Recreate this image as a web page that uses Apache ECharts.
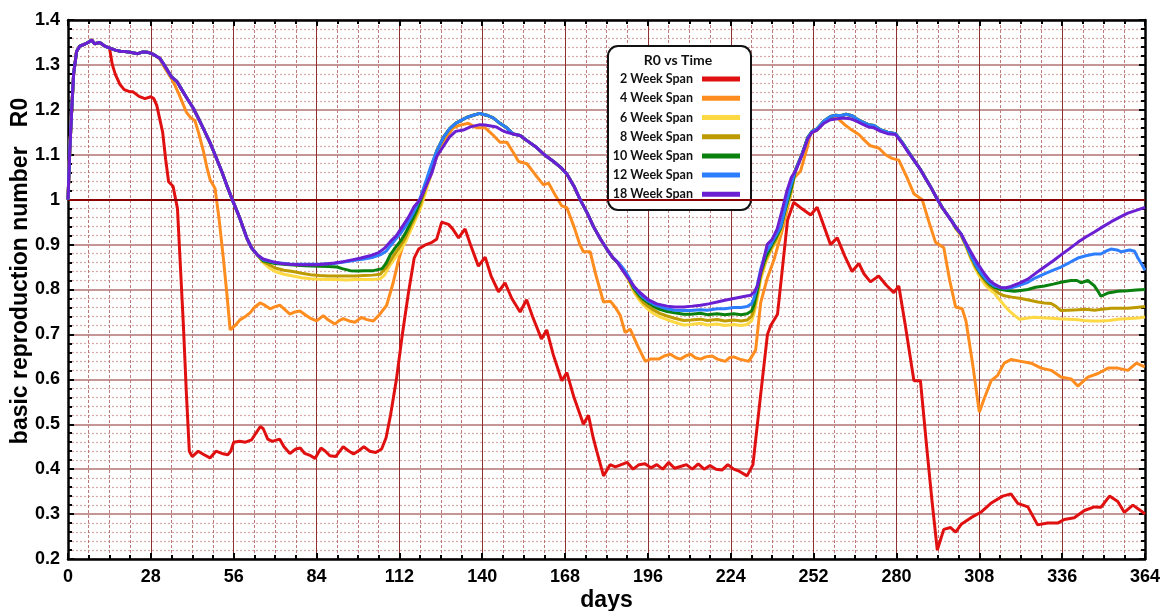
<!DOCTYPE html>
<html><head><meta charset="utf-8">
<script src="https://cdn.jsdelivr.net/npm/echarts@6/dist/echarts.min.js"></script>
<style>html,body{margin:0;padding:0;background:#fff}#chart{width:1166px;height:611px}</style>
</head><body><div id="chart"></div>
<script>
// ---- data: [day, R0] pairs ----
const seriesNames = ['2 Week Span','4 Week Span','6 Week Span','8 Week Span','10 Week Span','12 Week Span','18 Week Span'];
const seriesColors = ['#e01010','#ff8c1e','#ffd944','#bd9a00','#0a800f','#2d7dff','#6a1fd2'];

const commonStart = [[0,1.0],[0.6,1.11],[1.25,1.2],[1.9,1.28],[2.9,1.33],[4,1.342],[5.6,1.346],[7.3,1.352],[8,1.356],[9,1.347],[10.7,1.35],[12.4,1.342],[14,1.338]];
const plateau = [[16,1.333],[18,1.33],[19.2,1.33],[21,1.328],[23.6,1.325],[25.3,1.329],[27,1.328],[28.3,1.325],[29.7,1.32]];
const clusterFall = [[31,1.315],[33,1.295],[35,1.273],[36.7,1.264],[38,1.25],[40,1.228],[42.3,1.204],[44,1.182],[46,1.155],[48,1.127],[50,1.095],[52,1.062],[53.6,1.033],[55.9,0.994],[58,0.96],[60.4,0.915],[62,0.893],[64,0.877]];
const clusterPeak1 = [[124.6,1.108],[127,1.14],[129,1.158],[131,1.17],[133,1.177],[134.7,1.183],[137,1.188],[139.2,1.192],[141.5,1.188],[143.7,1.182],[146,1.17],[148.3,1.16]];
const clusterFall1 = [[150.5,1.146],[152.8,1.143],[155,1.132],[158.4,1.116],[161,1.1],[164.1,1.085],[166.5,1.072],[168.6,1.057],[171,1.03],[173.1,1.0],[175.5,0.97],[177.6,0.94],[180,0.912],[182.1,0.89],[184,0.872]];
const clusterPeak2 = [[246,1.068],[248,1.1],[250,1.138],[251.5,1.152],[253.2,1.158],[255.5,1.175],[257.7,1.185],[259.5,1.188],[261.1,1.187],[263,1.19],[265,1.187],[266.5,1.18],[268.5,1.173],[270.5,1.167],[272.4,1.165],[274.7,1.155],[277,1.15],[279.7,1.147],[282,1.127],[283.5,1.112],[285.9,1.088],[288,1.068],[290,1.046],[291.5,1.029],[293.5,1.005],[295.5,0.982],[297.2,0.966],[299,0.95]];

const redRest = [[15,1.3],[16,1.279],[17.5,1.257],[19,1.245],[21,1.24],[22,1.24],[24,1.23],[26,1.225],[28,1.229],[29,1.225],[30,1.21],[31,1.18],[32,1.15],[33,1.09],[34,1.04],[35.5,1.03],[37,0.98],[38,0.85],[39,0.72],[40,0.57],[41,0.44],[42,0.428],[44,0.44],[46,0.432],[48,0.425],[50,0.44],[52,0.435],[54,0.432],[55,0.44],[56,0.46],[58,0.462],[60,0.46],[62,0.465],[63.5,0.48],[65,0.495],[66,0.49],[67.5,0.467],[69,0.462],[71.5,0.467],[73,0.45],[75,0.435],[77,0.445],[78.5,0.447],[80,0.435],[82,0.43],[83.5,0.424],[85.5,0.447],[87,0.44],[88.5,0.43],[90.5,0.428],[93,0.45],[95,0.44],[96.5,0.434],[98,0.44],[100,0.45],[102,0.44],[104,0.437],[106,0.445],[107.5,0.47],[109,0.52],[111,0.6],[113,0.7],[115,0.79],[117,0.87],[118.5,0.89],[121,0.9],[123,0.905],[124.6,0.912],[126.3,0.95],[128.6,0.945],[130,0.935],[132,0.915],[134.2,0.935],[136,0.9],[138.7,0.852],[141,0.872],[143,0.83],[145.5,0.795],[147.7,0.815],[150,0.78],[152.8,0.75],[155,0.777],[157,0.74],[160,0.69],[161.8,0.71],[164,0.655],[166.9,0.597],[168.6,0.615],[171,0.56],[174.2,0.5],[175.9,0.52],[177.5,0.47],[178.7,0.44],[181,0.385],[183.2,0.41],[185,0.405],[187,0.41],[189,0.415],[191,0.4],[193,0.41],[195,0.412],[197,0.403],[199,0.41],[201,0.4],[203,0.415],[205,0.402],[207,0.406],[209,0.41],[211,0.4],[213,0.412],[215,0.4],[217,0.408],[219,0.4],[221,0.398],[223,0.41],[225,0.4],[227,0.395],[229.5,0.385],[231.5,0.41],[234,0.56],[236.4,0.7],[237.5,0.72],[239.8,0.745],[241.5,0.85],[243.2,0.955],[245.3,0.994],[247.6,0.982],[251,0.966],[253.2,0.983],[255,0.95],[257.7,0.9],[260,0.915],[262.5,0.875],[265,0.84],[267.3,0.858],[269,0.835],[271.2,0.817],[274,0.83],[276.5,0.81],[279.1,0.793],[280.8,0.808],[283,0.72],[285.9,0.597],[288.1,0.597],[290.4,0.437],[292,0.33],[293.8,0.22],[296,0.266],[298.3,0.27],[300,0.26],[302,0.278],[305.2,0.292],[308.5,0.304],[311.9,0.324],[315.9,0.34],[318.7,0.345],[321,0.324],[324.4,0.316],[327.7,0.276],[331.1,0.28],[334.5,0.28],[336.7,0.288],[340.1,0.292],[343.5,0.308],[346.9,0.316],[349.1,0.315],[352,0.34],[354.8,0.328],[357,0.304],[359.9,0.32],[363.3,0.304],[364,0.3]];

const orangeRest = [[31,1.313],[33,1.29],[35.5,1.264],[37.5,1.235],[40,1.195],[41.5,1.182],[42.9,1.176],[44.3,1.145],[45.7,1.11],[47,1.07],[48,1.045],[49.7,1.025],[51,0.96],[52.5,0.87],[53.7,0.79],[54.8,0.71],[56.5,0.72],[58.2,0.733],[60,0.74],[61.5,0.748],[63,0.76],[64.9,0.77],[66.5,0.765],[68.3,0.757],[70,0.762],[71.6,0.765],[73.3,0.755],[75,0.745],[76.7,0.75],[78.4,0.752],[80.5,0.742],[82.2,0.735],[84,0.73],[86.3,0.742],[88,0.732],[90.2,0.723],[91.5,0.73],[93,0.735],[95,0.73],[97,0.727],[99.2,0.738],[101,0.733],[103.2,0.73],[105.4,0.745],[107.7,0.765],[109.9,0.815],[111.5,0.86],[113.3,0.9],[115,0.935],[116.7,0.963],[118.5,0.985],[120.5,1.02],[122.4,1.05],[124,1.085],[125.7,1.112],[128,1.14],[130.2,1.16],[132.5,1.166],[135.3,1.17],[138.1,1.16],[141,1.16],[143.5,1.145],[146,1.128],[148.3,1.128],[150.5,1.105],[152.3,1.085],[155.1,1.08],[158,1.055],[160.7,1.033],[162.4,1.037],[164.7,1.01],[166.9,0.986],[168.6,0.982],[171,0.94],[173,0.9],[174.2,0.884],[176.5,0.884],[178.5,0.83],[181,0.772],[183.3,0.774],[185,0.76],[186.6,0.743],[188.3,0.704],[190,0.712],[192.5,0.675],[195.1,0.64],[196.8,0.645],[199.6,0.645],[201.5,0.652],[203.6,0.656],[205.5,0.648],[207,0.645],[208.7,0.652],[210.4,0.656],[212,0.648],[213.8,0.645],[215.5,0.65],[217.7,0.652],[219.5,0.645],[222.2,0.64],[223.5,0.648],[225,0.65],[227,0.645],[230.1,0.64],[232.4,0.665],[234.1,0.77],[236.3,0.824],[238.6,0.866],[241.4,0.932],[244.2,1.01],[245.3,1.048],[247.6,1.064],[250,1.12],[251,1.148],[253.2,1.155],[255.5,1.172],[257.7,1.183],[260,1.182],[262.3,1.168],[264.5,1.157],[267.3,1.145],[269.2,1.132],[271.2,1.12],[274,1.115],[276.3,1.1],[278.5,1.092],[280.8,1.088],[283.5,1.05],[285.9,1.013],[288.7,1.0],[291,0.95],[293.2,0.905],[296,0.893],[298,0.82],[300,0.761],[302.2,0.757],[303.5,0.73],[305.7,0.636],[308,0.527],[309.7,0.558],[312,0.597],[314.2,0.609],[316.4,0.636],[318.7,0.644],[322.1,0.64],[325.5,0.636],[328.9,0.625],[332.3,0.62],[335.6,0.605],[339,0.601],[341.3,0.585],[344.7,0.605],[348.1,0.613],[351.5,0.625],[354.8,0.625],[358.2,0.62],[361.1,0.636],[363.9,0.628]];

const yellowA = [[66,0.86],[68,0.848],[70,0.84],[73,0.834],[76,0.83],[79,0.826],[82,0.824],[85,0.823],[88,0.822],[91,0.822],[94,0.821],[97,0.822],[100,0.822],[103,0.822],[105.5,0.824],[107,0.832],[108.9,0.855],[110.5,0.87],[112.3,0.886],[114,0.905],[115.7,0.93],[117.4,0.955],[119.1,0.98],[120.8,1.015],[122.4,1.05]];
const oliveA = [[66,0.862],[68,0.855],[70,0.848],[73,0.843],[76,0.84],[79,0.836],[82,0.833],[85,0.831],[88,0.83],[91,0.83],[94,0.83],[97,0.83],[100,0.831],[103,0.832],[105.5,0.834],[107.7,0.85],[110,0.875],[112.3,0.897],[114,0.915],[115.7,0.94],[117.4,0.963],[119.1,0.99],[120.8,1.025],[122.4,1.058]];
const greenA = [[66,0.864],[70,0.858],[75,0.855],[80,0.853],[85,0.852],[88,0.851],[90.9,0.85],[93,0.846],[95.4,0.842],[98,0.841],[100,0.842],[103.2,0.842],[106.1,0.846],[107.5,0.858],[108.9,0.877],[110.5,0.892],[112.3,0.907],[114,0.925],[115.7,0.947],[117.4,0.97],[119.1,0.998],[120.8,1.03],[122.4,1.065]];
const blueA = [[66,0.866],[70,0.86],[75,0.857],[80,0.856],[85,0.856],[90,0.858],[92,0.86],[95,0.863],[98,0.866],[100,0.868],[103.2,0.872],[105.5,0.877],[107.5,0.885],[108.9,0.897],[110.5,0.91],[112.3,0.924],[114,0.94],[115.7,0.958],[117.4,0.98],[119.1,1.005],[120.8,1.038],[122.4,1.07]];
const purpleA = [[66,0.868],[69,0.862],[72,0.858],[75,0.856],[78,0.855],[81,0.855],[84,0.855],[87,0.857],[90,0.859],[93,0.862],[96,0.866],[99,0.87],[102,0.875],[105,0.882],[107,0.892],[109,0.907],[111,0.92],[113,0.94],[115,0.96],[117,0.985],[119,1.0],[121,1.03],[123,1.06],[124.6,1.096],[127,1.12],[129,1.14],[131,1.152],[133.6,1.155],[136,1.162],[139.2,1.167],[141,1.166],[144.8,1.162],[146.5,1.155],[148.3,1.15]];

const yellowB = [[186,0.858],[188,0.838],[189.5,0.82],[191.2,0.795],[193,0.777],[194.5,0.765],[196.2,0.755],[198,0.746],[200,0.739],[202.5,0.733],[205,0.727],[208.1,0.721],[210.5,0.722],[213.8,0.725],[216,0.721],[219.4,0.723],[222,0.72],[225,0.722],[227.5,0.72],[229.5,0.722],[231,0.73],[231.8,0.745],[233,0.78],[234.1,0.822],[235.8,0.86],[237.5,0.886],[239.2,0.905],[240.9,0.932],[242.5,0.975],[244.2,1.01]];
const oliveB = [[186,0.858],[188,0.84],[189.5,0.823],[191.2,0.8],[193,0.783],[194.5,0.771],[196.2,0.762],[198,0.754],[200,0.747],[202.5,0.741],[205,0.736],[208.1,0.731],[210.5,0.732],[213.8,0.734],[216,0.731],[219.4,0.733],[222,0.73],[225,0.732],[227.5,0.73],[229.5,0.732],[231,0.74],[231.8,0.755],[233,0.79],[234.1,0.83],[235.8,0.866],[237.5,0.89],[239.2,0.91],[240.9,0.935],[242.5,0.978],[244.2,1.015]];
const greenB = [[186,0.858],[188,0.842],[189.5,0.826],[191.2,0.803],[193,0.788],[194.5,0.778],[196.2,0.77],[198,0.762],[200,0.756],[202.5,0.751],[205,0.748],[208.1,0.745],[210.5,0.745],[213.8,0.747],[216,0.744],[219.4,0.746],[222,0.744],[225,0.746],[227.5,0.744],[229.5,0.746],[231,0.752],[231.8,0.765],[233,0.8],[234.1,0.838],[235.8,0.872],[237.5,0.895],[239.2,0.915],[240.9,0.938],[242.5,0.98],[244.2,1.02]];
const blueB = [[186,0.86],[188,0.844],[189.5,0.828],[191.2,0.806],[193,0.792],[194.5,0.782],[196.2,0.774],[198,0.767],[200,0.762],[202.5,0.757],[205,0.754],[208.1,0.753],[210.5,0.753],[213.8,0.755],[216,0.754],[219.4,0.757],[222,0.757],[225,0.76],[227.5,0.76],[229.5,0.762],[231,0.768],[231.8,0.78],[233,0.81],[234.1,0.845],[235.8,0.882],[237.5,0.9],[239.2,0.92],[240.9,0.94],[242.5,0.985],[244.2,1.03]];
const purpleB = [[185.5,0.862],[187,0.847],[189,0.828],[191.2,0.808],[193,0.795],[196.2,0.777],[199,0.768],[202.5,0.763],[205,0.761],[208.1,0.761],[211,0.763],[213.8,0.765],[216.5,0.768],[219.4,0.772],[222,0.776],[225,0.78],[228,0.784],[230.7,0.787],[232,0.795],[233,0.808],[234.5,0.85],[236.3,0.9],[238,0.912],[239.7,0.935],[241.5,0.98],[243,1.02],[244.5,1.05],[246,1.065],[248,1.098],[250,1.135],[251.5,1.15],[253.2,1.155],[255.5,1.17],[257.7,1.178],[260,1.18],[262,1.182],[264.5,1.18],[266.5,1.175],[268.5,1.168],[270.5,1.162],[272.4,1.16],[274.7,1.152],[277,1.147],[279.7,1.145],[282,1.125],[283.5,1.11],[285.9,1.088],[288,1.068],[290,1.045],[291.5,1.029],[293.5,1.005],[295.5,0.982],[297.2,0.966]];

const yellowC = [[300,0.935],[301.8,0.92],[303.5,0.895],[305,0.87],[306.5,0.848],[308,0.83],[310,0.81],[312,0.797],[313.1,0.792],[314.5,0.78],[316.4,0.765],[318,0.753],[320,0.742],[321.5,0.734],[324,0.736],[326.6,0.738],[329,0.737],[332.3,0.736],[335,0.735],[337.9,0.734],[340.5,0.733],[343.5,0.731],[346,0.73],[349.1,0.73],[352,0.731],[354.8,0.734],[357.5,0.735],[360.5,0.736],[362.5,0.737],[364,0.739]];
const oliveC = [[300,0.937],[301.8,0.922],[303.5,0.898],[305,0.874],[306.5,0.853],[308,0.836],[310,0.818],[311.5,0.807],[313.1,0.8],[314.5,0.792],[316.4,0.786],[319,0.783],[322.1,0.78],[325,0.776],[327.8,0.772],[330,0.77],[332.3,0.769],[334,0.762],[335.6,0.753],[338,0.754],[341.3,0.755],[344,0.756],[346.9,0.754],[349.5,0.756],[352.6,0.758],[355.5,0.758],[358.2,0.758],[361,0.76],[364,0.762]];
const greenC = [[300,0.938],[301.8,0.924],[303.5,0.9],[305,0.878],[306.5,0.857],[308,0.84],[309.7,0.825],[311.5,0.812],[313.1,0.805],[315.4,0.8],[317.5,0.798],[319.9,0.796],[322,0.798],[324.4,0.8],[327,0.805],[330,0.808],[333,0.812],[335.6,0.816],[337,0.818],[339,0.82],[341,0.82],[342.4,0.815],[344.7,0.82],[346.9,0.808],[348,0.797],[349.1,0.785],[351.4,0.792],[353,0.794],[354.8,0.796],[358.2,0.797],[361,0.799],[364,0.8]];
const blueC = [[300,0.938],[301.8,0.924],[303.5,0.9],[305,0.878],[306.5,0.858],[308,0.842],[309.7,0.827],[311.5,0.815],[313.1,0.808],[315.4,0.804],[317,0.803],[318.7,0.804],[321.5,0.809],[324.4,0.816],[327,0.826],[330,0.835],[333,0.843],[335.6,0.85],[338.5,0.86],[341.3,0.87],[344,0.875],[346.9,0.879],[349.1,0.879],[351,0.886],[352.5,0.89],[354.5,0.888],[356,0.884],[358.8,0.888],[360.5,0.885],[361.6,0.87],[363,0.855],[364,0.843]];
const purpleC = [[299,0.948],[301.8,0.924],[304,0.897],[306.3,0.87],[308,0.852],[309.7,0.835],[311.5,0.82],[313.1,0.812],[315.4,0.804],[317,0.804],[318.7,0.807],[321.5,0.814],[324.4,0.823],[327,0.836],[330,0.85],[333,0.864],[335.6,0.877],[338.5,0.891],[341.3,0.905],[344,0.917],[346.9,0.928],[349.8,0.94],[352.6,0.951],[355.5,0.961],[358.2,0.97],[361,0.976],[364,0.983]];

const xMin = 0, xMax = 364, xStep = 28;
const yMin = 0.2, yMax = 1.4, yStep = 0.1;
const thresholdR0 = 1;

// ---- build series ----
const seriesData = [
  commonStart.concat(redRest),
  commonStart.concat(plateau, orangeRest),
  commonStart.concat(plateau, clusterFall, yellowA, clusterPeak1, clusterFall1, yellowB, clusterPeak2, yellowC),
  commonStart.concat(plateau, clusterFall, oliveA, clusterPeak1, clusterFall1, oliveB, clusterPeak2, oliveC),
  commonStart.concat(plateau, clusterFall, greenA, clusterPeak1, clusterFall1, greenB, clusterPeak2, greenC),
  commonStart.concat(plateau, clusterFall, blueA, clusterPeak1, clusterFall1, blueB, clusterPeak2, blueC),
  commonStart.concat(plateau, clusterFall, purpleA, clusterFall1, purpleB, purpleC)
];

const FONT = '"Liberation Sans", Arial, sans-serif';
const series = seriesData.map((d, i) => {
  const s = {
    name: seriesNames[i], type: 'line', data: d, showSymbol: false, symbol: 'none',
    lineStyle: {color: seriesColors[i], width: 3}, itemStyle: {color: seriesColors[i]},
    z: 3 + i, silent: true
  };
  if (i === 0) {
    s.markLine = {silent: true, symbol: ['none','none'], label: {show: false},
      lineStyle: {color: '#8b0000', width: 2, type: 'solid'}, data: [{yAxis: thresholdR0}]};
  }
  return s;
});

const tickCommon = {
  axisLine: {show: true, onZero: false, lineStyle: {color: '#000', width: 2.5}},
  axisTick: {show: true, inside: true, length: 6, lineStyle: {color: '#000', width: 2}},
  minorTick: {show: true, length: 4, lineStyle: {color: '#000', width: 2}}
};

const option = {
  animation: false,
  backgroundColor: '#fff',
  grid: {left: 68, right: 21, top: 20, bottom: 52, containLabel: false, outerBoundsMode: 'none'},
  xAxis: [
    Object.assign({
      type: 'value', min: xMin, max: xMax, interval: xStep, position: 'bottom',
      name: 'days', nameLocation: 'middle', nameGap: 30, nameMoveOverlap: false,
      nameTextStyle: {fontFamily: FONT, fontWeight: 'bold', fontSize: 23, color: '#000'},
      axisLabel: {fontFamily: FONT, fontWeight: 'bold', fontSize: 18, color: '#000', margin: 9},
      splitLine: {show: true, lineStyle: {color: '#8e3030', width: 1}},
      minorSplitLine: {show: true, lineStyle: {color: '#bd7a7a', width: 1, type: [3, 2]}}
    }, tickCommon, {minorTick: Object.assign({splitNumber: 4}, tickCommon.minorTick)}),
    Object.assign({
      type: 'value', min: xMin, max: xMax, interval: xStep, position: 'top',
      axisLabel: {show: false}, splitLine: {show: false}
    }, tickCommon, {minorTick: Object.assign({splitNumber: 4}, tickCommon.minorTick)})
  ],
  yAxis: [
    Object.assign({
      type: 'value', min: yMin, max: yMax, interval: yStep, position: 'left',
      name: 'basic reproduction number   R0', nameLocation: 'middle', nameGap: 36, nameMoveOverlap: false,
      nameTextStyle: {fontFamily: FONT, fontWeight: 'bold', fontSize: 23, color: '#000', padding: [0, 0, 0, 37]},
      axisLabel: {fontFamily: FONT, fontWeight: 'bold', fontSize: 18, color: '#000', margin: 8,
        formatter: v => String(Math.round(v * 10) / 10)},
      splitLine: {show: true, lineStyle: {color: '#c69696', width: 2}},
      minorSplitLine: {show: true, lineStyle: {color: '#d9a9a9', width: 1.2, type: [2, 2]}}
    }, tickCommon, {minorTick: Object.assign({splitNumber: 5}, tickCommon.minorTick)}),
    Object.assign({
      type: 'value', min: yMin, max: yMax, interval: yStep, position: 'right',
      axisLabel: {show: false}, splitLine: {show: false}
    }, tickCommon, {minorTick: Object.assign({splitNumber: 5}, tickCommon.minorTick)})
  ],
  legend: {
    orient: 'vertical', right: 426, top: 72, align: 'right', padding: 0,
    itemWidth: 38, itemHeight: 5, itemGap: 5, icon: 'rect',
    textStyle: {fontFamily: 'Lato, "Open Sans", sans-serif', fontWeight: 'bold', fontSize: 12.5, color: '#111', lineHeight: 14.2, padding: [0, 4, 0, 0]},
    data: seriesNames, selectedMode: false
  },
  graphic: [
    {type: 'rect', z: 1, silent: true, shape: {x: 608, y: 46, width: 143, height: 164, r: 10},
      style: {fill: '#fff', stroke: '#111', lineWidth: 2}},
    {type: 'text', z: 10, silent: true, x: 678, y: 60,
      style: {text: 'R0 vs Time', font: 'bold 14px Lato, "Open Sans", sans-serif', fill: '#111', align: 'center', verticalAlign: 'middle'}}
  ],
  series: series
};

const chart = echarts.init(document.getElementById('chart'), null, {renderer: 'canvas'});
chart.setOption(option);
</script>
</body></html>
